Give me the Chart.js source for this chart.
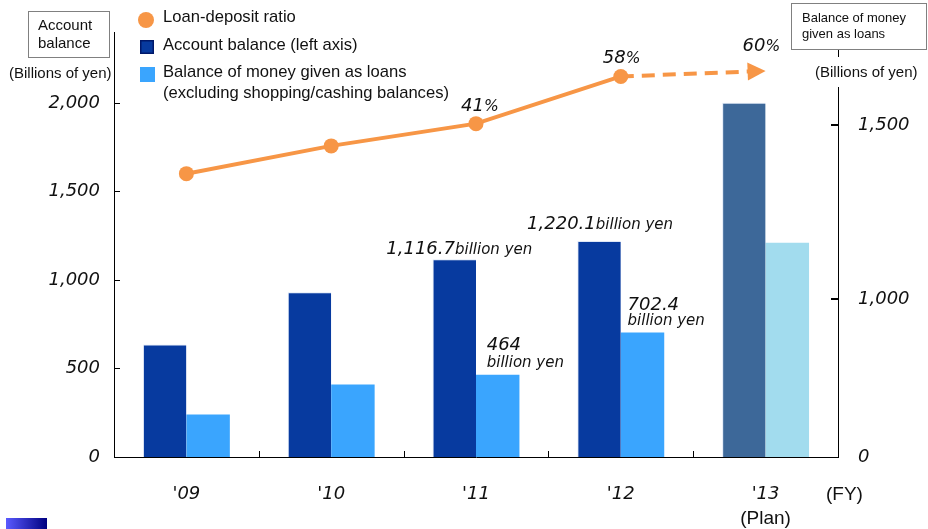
<!DOCTYPE html>
<html>
<head>
<meta charset="utf-8">
<script src="https://cdn.jsdelivr.net/npm/chart.js@4.4.1/dist/chart.umd.min.js"></script>
<style>
  body { margin: 0; background: #fff; }
  canvas { display: block; }
</style>
</head>
<body>
<canvas id="balanceChart" width="928" height="529"></canvas>
<script>
// Fiscal years
const years = ["'09", "'10", "'11", "'12", "'13"];
// Account balance, billions of yen (left axis)
const accountBalance = [635, 930, 1116.7, 1220.1, 2000];
// Balance of money given as loans, billions of yen
const loanBalance = [240, 410, 464, 702.4, 1210];
// Loan-deposit ratio in %, on its own hidden scale
const loanDepositRatio = [23, 33, 41, 58, 60];
// Axis tick labels
const leftTicks = [0, 500, 1000, 1500, 2000];
const rightTicks = [0, 1000, 1500];

const ORANGE = '#f79646';
const accountColors = ['#073a9f', '#073a9f', '#073a9f', '#073a9f', '#3d6899'];
const loanColors = ['#3aa5fe', '#3aa5fe', '#3aa5fe', '#3aa5fe', '#a2dcee'];

const numFont = "'DejaVu Sans', sans-serif";
const textFont = "'Liberation Sans', Arial, sans-serif";
const fmt = v => v.toLocaleString('en-US', { maximumFractionDigits: 1 });

// draws pieces of italic text with different sizes one after another
function drawParts(ctx, x, y, parts) {
  parts.forEach(([text, size]) => {
    ctx.font = `italic ${size}px ${numFont}`;
    ctx.fillText(text, x, y);
    x += ctx.measureText(text).width;
  });
}

const decorations = {
  id: 'decorations',
  afterDraw(chart) {
    const { ctx, chartArea: area, scales } = chart;
    ctx.save();
    ctx.textAlign = 'left';
    ctx.textBaseline = 'alphabetic';

    // small tick marks on the inside of the axes
    ctx.strokeStyle = '#000';
    ctx.lineWidth = 1;
    ctx.beginPath();
    leftTicks.slice(1).forEach(v => {
      const y = Math.round(scales.y.getPixelForValue(v)) + 0.5;
      ctx.moveTo(area.left, y);
      ctx.lineTo(area.left + 6, y);
    });
    for (let i = 0; i < years.length - 1; i++) {
      const x = Math.round((scales.x.getPixelForValue(i) + scales.x.getPixelForValue(i + 1)) / 2) + 0.5;
      ctx.moveTo(x, area.bottom);
      ctx.lineTo(x, area.bottom - 6);
    }
    ctx.stroke();
    ctx.lineWidth = 2;
    ctx.beginPath();
    rightTicks.slice(1).forEach(v => {
      const y = Math.round(scales.y2.getPixelForValue(v));
      ctx.moveTo(area.right - 7, y);
      ctx.lineTo(area.right, y);
    });
    ctx.stroke();

    // arrow head at the end of the plan segment
    const line = chart.getDatasetMeta(0).data;
    const p0 = line[line.length - 2], p1 = line[line.length - 1];
    const ang = Math.atan2(p1.y - p0.y, p1.x - p0.x);
    ctx.save();
    ctx.translate(p1.x, p1.y);
    ctx.rotate(ang);
    ctx.fillStyle = ORANGE;
    ctx.beginPath();
    ctx.moveTo(0, 0);
    ctx.lineTo(-18, -9);
    ctx.lineTo(-18, 9);
    ctx.closePath();
    ctx.fill();
    ctx.restore();

    // ratio labels
    ctx.fillStyle = '#111';
    const ratioOffsets = { 2: [-15, -13], 3: [-18, -13], 4: [-23, -20] };
    Object.keys(ratioOffsets).forEach(i => {
      const p = line[i];
      const [dx, dy] = ratioOffsets[i];
      drawParts(ctx, p.x + dx, p.y + dy, [[String(loanDepositRatio[i]), 18], ['%', 15.5]]);
    });

    // value labels over the bars
    const acc = chart.getDatasetMeta(1).data;
    const loan = chart.getDatasetMeta(2).data;
    drawParts(ctx, acc[2].x - 68, acc[2].y - 5, [[fmt(accountBalance[2]), 18], ['billion yen', 15]]);
    drawParts(ctx, acc[3].x - 72, acc[3].y - 12, [[fmt(accountBalance[3]), 18], ['billion yen', 15]]);
    drawParts(ctx, loan[2].x - 11, loan[2].y - 25, [[fmt(loanBalance[2]), 18]]);
    drawParts(ctx, loan[2].x - 11, loan[2].y - 8, [['billion yen', 15]]);
    drawParts(ctx, loan[3].x - 15, loan[3].y - 23, [[fmt(loanBalance[3]), 18]]);
    drawParts(ctx, loan[3].x - 15, loan[3].y - 8, [['billion yen', 15]]);

    // legend
    ctx.fillStyle = ORANGE;
    ctx.beginPath();
    ctx.arc(146, 20, 8, 0, Math.PI * 2);
    ctx.fill();
    ctx.fillStyle = accountColors[0];
    ctx.fillRect(140, 40, 14, 14);
    ctx.strokeStyle = '#00186a';
    ctx.lineWidth = 1.5;
    ctx.strokeRect(140.75, 40.75, 12.5, 12.5);
    ctx.fillStyle = loanColors[0];
    ctx.fillRect(140, 67, 15, 15);
    ctx.fillStyle = '#111';
    ctx.font = `16.6px ${textFont}`;
    ctx.fillText('Loan-deposit ratio', 163, 22);
    ctx.fillText('Account balance (left axis)', 163, 50);
    ctx.fillText('Balance of money given as loans', 163, 77);
    ctx.fillText('(excluding shopping/cashing balances)', 163, 98);

    // axis title boxes
    ctx.strokeStyle = '#808080';
    ctx.lineWidth = 1;
    ctx.fillStyle = '#fff';
    ctx.fillRect(28, 11, 81, 46);
    ctx.strokeRect(28.5, 11.5, 81, 46);
    ctx.fillRect(791, 3, 135, 46);
    ctx.strokeRect(791.5, 3.5, 135, 46);
    ctx.fillRect(area.right - 6, 57, 12, 30);
    ctx.fillStyle = '#111';
    ctx.font = `15px ${textFont}`;
    ctx.fillText('Account', 38, 30);
    ctx.fillText('balance', 38, 48);
    ctx.font = `13px ${textFont}`;
    ctx.fillText('Balance of money', 802, 22);
    ctx.fillText('given as loans', 802, 38);
    ctx.font = `15px ${textFont}`;
    ctx.fillText('(Billions of yen)', 9, 78);
    ctx.fillText('(Billions of yen)', 815, 77);

    // year notes under the axis
    ctx.font = `19px ${textFont}`;
    ctx.textAlign = 'center';
    ctx.fillText('(Plan)', scales.x.getPixelForValue(4), 524);
    ctx.textAlign = 'left';
    ctx.fillText('(FY)', 826, 500);

    // corner mark
    const g = ctx.createLinearGradient(6, 0, 47, 0);
    g.addColorStop(0, '#5a5aff');
    g.addColorStop(1, '#000080');
    ctx.fillStyle = g;
    ctx.fillRect(6, 518, 41, 11);
    ctx.restore();
  }
};

new Chart(document.getElementById('balanceChart'), {
  type: 'bar',
  data: {
    labels: years,
    datasets: [
      {
        type: 'line',
        label: 'Loan-deposit ratio',
        data: loanDepositRatio,
        yAxisID: 'y3',
        borderColor: ORANGE,
        backgroundColor: ORANGE,
        borderWidth: 4,
        pointRadius: [7.5, 7.5, 7.5, 7.5, 0],
        pointBorderWidth: 0,
        pointBackgroundColor: ORANGE,
        clip: false,
        order: 0,
        segment: {
          borderDash: c => (c.p1DataIndex === years.length - 1 ? [13, 8] : undefined)
        }
      },
      {
        label: 'Account balance (left axis)',
        data: accountBalance,
        yAxisID: 'y',
        backgroundColor: accountColors,
        borderColor: 'rgba(200,215,240,0.6)',
        borderWidth: { top: 1, left: 1, right: 0, bottom: 0 },
        categoryPercentage: 0.6,
        barPercentage: 1,
        order: 1
      },
      {
        label: 'Balance of money given as loans',
        data: loanBalance,
        yAxisID: 'y',
        backgroundColor: loanColors,
        categoryPercentage: 0.6,
        barPercentage: 1,
        order: 1
      }
    ]
  },
  options: {
    responsive: false,
    devicePixelRatio: 1,
    animation: false,
    events: [],
    layout: { padding: { top: 32, left: 0, right: 0, bottom: 0 } },
    plugins: { legend: { display: false }, tooltip: { enabled: false } },
    scales: {
      x: {
        grid: { display: false, drawTicks: false },
        border: { color: '#000', width: 1 },
        afterFit: s => { s.height = 72; },
        ticks: {
          padding: 27,
          color: '#111',
          font: { family: numFont, size: 18, style: 'italic' }
        }
      },
      y: {
        position: 'left',
        min: 0,
        max: 2400,
        grid: { display: false, drawTicks: false },
        border: { color: '#000', width: 1 },
        afterFit: s => { s.width = 114; },
        afterBuildTicks: s => { s.ticks = leftTicks.map(v => ({ value: v })); },
        ticks: {
          padding: 14,
          color: '#111',
          font: { family: numFont, size: 18, style: 'italic' },
          callback: v => fmt(v)
        }
      },
      // loans axis, broken between 0 and 1,000
      y2: {
        position: 'right',
        min: 546,
        max: 1767,
        grid: { display: false, drawTicks: false },
        border: { color: '#000', width: 1 },
        afterFit: s => { s.width = 90; },
        afterBuildTicks: s => { s.ticks = rightTicks.map(v => ({ value: v === 0 ? s.min : v })); },
        ticks: {
          padding: 20,
          color: '#111',
          font: { family: numFont, size: 18, style: 'italic' },
          callback(v) { return v <= this.min ? '0' : fmt(v); }
        }
      },
      y3: { display: false, min: -79, max: 74 }
    }
  },
  plugins: [decorations]
});
</script>
</body>
</html>
